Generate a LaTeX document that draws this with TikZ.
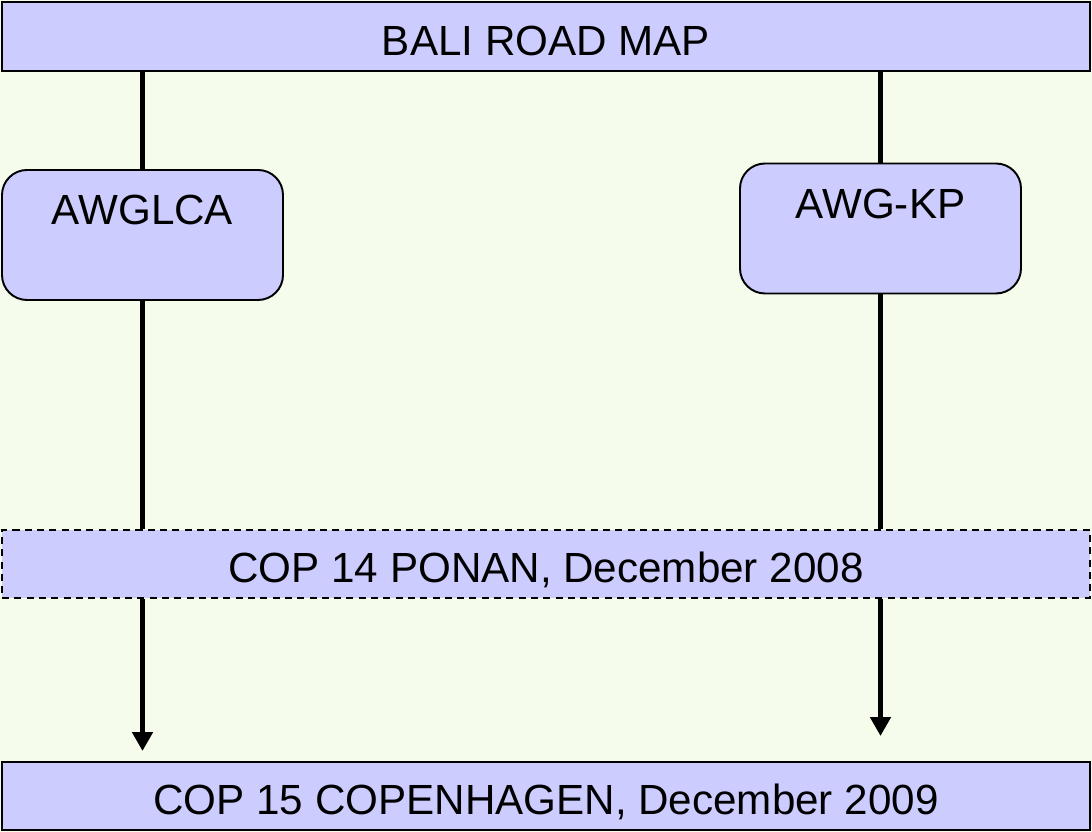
\documentclass[tikz,border=0pt]{standalone}
\usepackage{fontspec}
\setmainfont{Liberation Sans}
\usetikzlibrary{positioning, arrows.meta}
\definecolor{MapBack}{HTML}{F5FCEC}
\definecolor{MapLilac}{HTML}{CCCCFF}

\begin{document}
\begin{tikzpicture}[
    bar/.style={draw=black, line width=1.1pt, fill=MapLilac, minimum width=21.76cm, minimum height=1.38cm, inner sep=0pt, text height=0.86cm, text depth=0.1cm, font=\fontsize{24}{28}\selectfont},
    group/.style={draw=black, line width=1.1pt, fill=MapLilac, rounded corners=0.5cm, minimum width=5.62cm, minimum height=2.6cm, text depth=1cm, font=\fontsize{24}{28}\selectfont},
    track/.style={line width=3.3pt, black},
    flow/.style={track, -{Triangle[length=0.38cm, width=0.4cm]}}
]
    % Background
    \fill[MapBack] (0,0) rectangle (21.84,16.64);
    \useasboundingbox (0,0) rectangle (21.84,16.64);

    % Bali road map
    \node[bar] (bali) at (10.92,15.91) {BALI ROAD MAP};

    % Working groups
    \node[group] (awglca) at (2.85,11.94) {AWGLCA};
    \node[group] (awgkp) at (17.61,12.07) {AWG-KP};

    % COP 14
    \node[bar, dash pattern=on 4pt off 3pt, minimum height=1.36cm] (cop14) at (10.92,5.36) {COP 14 PONAN, December 2008};

    % COP 15
    \node[bar, minimum height=1.36cm] (cop15) at (10.92,0.72) {COP 15 COPENHAGEN, December 2009};

    % Left track
    \draw[track] (bali.south -| awglca.north) -- (awglca.north);
    \draw[track] (awglca.south) -- (awglca.south |- cop14.north);
    \draw[flow, shorten >=0.2cm] (awglca.south |- cop14.south) -- (awglca.south |- cop15.north);

    % Right track
    \draw[track] (bali.south -| awgkp.north) -- (awgkp.north);
    \draw[track] (awgkp.south) -- (awgkp.south |- cop14.north);
    \draw[flow, shorten >=0.5cm] (awgkp.south |- cop14.south) -- (awgkp.south |- cop15.north);
\end{tikzpicture}
\end{document}
